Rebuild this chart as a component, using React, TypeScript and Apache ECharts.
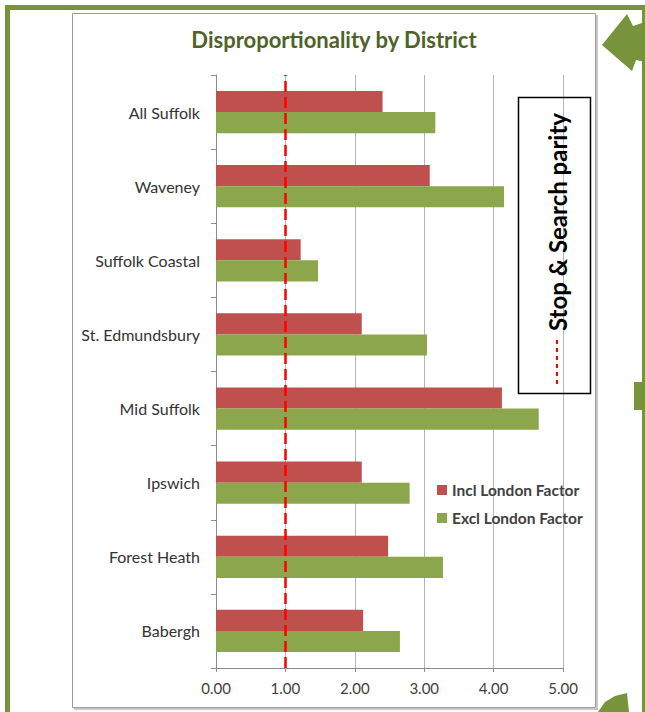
import React, { useEffect, useRef } from "react";
import * as echarts from "echarts";

const categories = [
  "Babergh",
  "Forest Heath",
  "Ipswich",
  "Mid Suffolk",
  "St. Edmundsbury",
  "Suffolk Coastal",
  "Waveney",
  "All Suffolk",
];
const inclLondon = [2.12, 2.48, 2.1, 4.12, 2.1, 1.22, 3.08, 2.4];
const exclLondon = [2.65, 3.27, 2.79, 4.65, 3.04, 1.47, 4.15, 3.16];
const seriesNames = ["Incl London Factor", "Excl London Factor"];
const parityValue = 1;
const titleText = "Disproportionality by District";
const boxText = "Stop & Search parity";

const FONT = "Lato, 'Open Sans', sans-serif";
const FRAME = "#77933c";

export default function App() {
  const ref = useRef<HTMLDivElement>(null);
  useEffect(() => {
    document.body.style.margin = "0";
    if (!ref.current) return;
    const chart = echarts.init(ref.current, undefined, { renderer: "svg" });
    chart.setOption({
      animation: false,
      backgroundColor: "#ffffff",
      title: {
        text: titleText,
        left: 334,
        top: 28,
        padding: 0,
        textAlign: "center",
        textStyle: { fontFamily: FONT, fontWeight: "bold", fontSize: 22, color: "#4f6228" },
      },
      legend: {
        orient: "vertical",
        left: 437,
        top: 482,
        padding: 0,
        itemWidth: 10,
        itemHeight: 10,
        itemGap: 12,
        icon: "rect",
        textStyle: { fontFamily: FONT, fontWeight: "bold", fontSize: 15.5, color: "#404040" },
        data: seriesNames,
      },
      grid: { left: 216, right: 82, top: 75, bottom: 44, containLabel: false },
      xAxis: {
        type: "value",
        min: 0,
        max: 5,
        interval: 1,
        axisLine: { show: true, lineStyle: { color: "#8c8c8c" } },
        axisTick: { show: true, length: 4, lineStyle: { color: "#8c8c8c" } },
        splitLine: { show: true, lineStyle: { color: "#b5b5b5" } },
        axisLabel: {
          margin: 12,
          fontFamily: FONT,
          fontSize: 15,
          color: "#404040",
          formatter: (v: number) => v.toFixed(2),
        },
      },
      yAxis: {
        type: "category",
        data: categories,
        axisLine: { show: true, lineStyle: { color: "#8c8c8c" } },
        axisTick: { show: true, length: 5, lineStyle: { color: "#8c8c8c" } },
        axisLabel: { margin: 16, fontFamily: FONT, fontSize: 16, color: "#333333" },
      },
      series: [
        {
          name: seriesNames[0],
          type: "bar",
          data: inclLondon,
          barGap: "0%",
          barCategoryGap: "43%",
          itemStyle: { color: "#c0504d" },
          markLine: {
            silent: true,
            symbol: "none",
            label: { show: false },
            lineStyle: { color: "#ff0000", type: [11, 5], width: 2.5 },
            data: [{ xAxis: parityValue }],
            z: 10,
          },
        },
        {
          name: seriesNames[1],
          type: "bar",
          data: exclLondon,
          barGap: "0%",
          barCategoryGap: "43%",
          itemStyle: { color: "#8ca64b" },
        },
      ],
      graphic: [
        // outer green frame
        { type: "rect", shape: { x: 5, y: 5, width: 5, height: 707 }, style: { fill: FRAME } },
        { type: "rect", shape: { x: 5, y: 5, width: 640, height: 5 }, style: { fill: FRAME } },
        { type: "rect", shape: { x: 642, y: 5, width: 3, height: 707 }, style: { fill: FRAME } },
        { type: "rect", shape: { x: 634, y: 382, width: 10, height: 28 }, style: { fill: FRAME } },
        {
          type: "polygon",
          shape: {
            points: [
              [602, 45],
              [627, 14],
              [633, 26],
              [645, 22],
              [645, 62],
              [636, 60],
              [632, 71],
            ],
          },
          style: { fill: FRAME },
        },
        {
          type: "polygon",
          shape: {
            points: [
              [598, 712],
              [605, 702],
              [615, 696],
              [627, 693],
              [629, 712],
            ],
          },
          style: { fill: FRAME },
        },
        // chart area border with shadow
        { type: "line", shape: { x1: 597, y1: 15, x2: 597, y2: 710 }, style: { stroke: "#c8c8c8", lineWidth: 2 } },
        { type: "line", shape: { x1: 74, y1: 709, x2: 597, y2: 709 }, style: { stroke: "#c8c8c8", lineWidth: 2 } },
        {
          type: "rect",
          shape: { x: 72.5, y: 13.5, width: 523, height: 694 },
          style: { fill: "none", stroke: "#9a9a9a", lineWidth: 1 },
        },
        // parity text box
        {
          type: "rect",
          shape: { x: 518.5, y: 97.5, width: 72, height: 296 },
          style: { fill: "none", stroke: "#000000", lineWidth: 1.5 },
          z: 20,
        },
        {
          type: "text",
          x: 557,
          y: 222,
          rotation: Math.PI / 2,
          style: {
            text: boxText,
            fontFamily: FONT,
            fontWeight: "bold",
            fontSize: 24,
            fill: "#000000",
            align: "center",
            verticalAlign: "middle",
          },
          z: 20,
        },
        {
          type: "line",
          shape: { x1: 557, y1: 340, x2: 557, y2: 386 },
          style: { stroke: "#ff0000", lineWidth: 2, lineDash: [4, 4] },
          z: 20,
        },
      ],
    });
    return () => chart.dispose();
  }, []);
  return <div ref={ref} style={{ position: "absolute", left: 0, top: 0, width: 645, height: 712 }} />;
}
